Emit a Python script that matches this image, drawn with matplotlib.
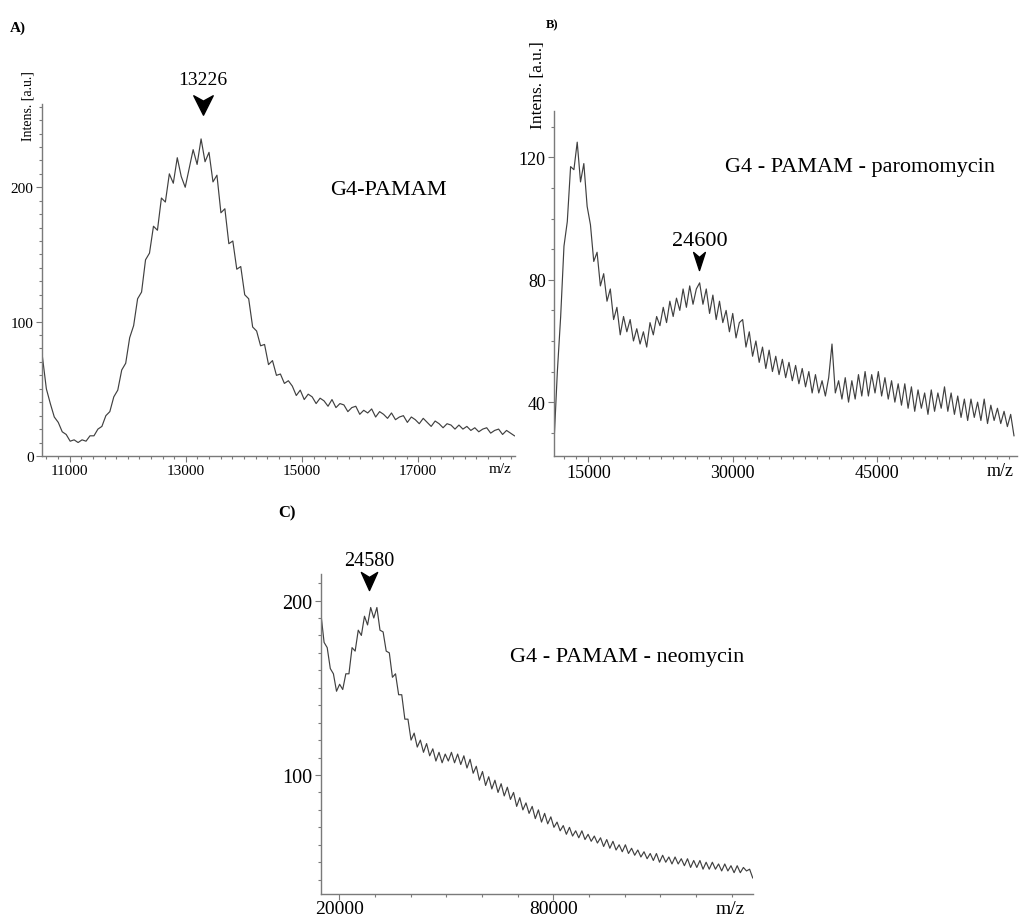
import numpy as np
import matplotlib
matplotlib.use("Agg")
import matplotlib.pyplot as plt
from matplotlib.path import Path
from matplotlib.ticker import MultipleLocator, FixedLocator

plt.rcParams['font.family'] = ['Liberation Serif', 'DejaVu Serif']

# ---- data (m/z grid + intensities) ----
mz_a = np.linspace(10530, 18657, 120)
int_a = [74, 50, 39, 29, 25, 18, 16, 11, 12, 10, 12, 11, 15, 15, 20, 22, 30, 33, 44, 49,
         64, 69, 88, 97, 117, 122, 146, 151, 171, 168, 192, 189, 210, 203, 222, 208, 200, 214, 228, 217,
         236, 219, 226, 204, 209, 181, 184, 158, 160, 139, 141, 120, 117, 96, 93, 82, 83, 68, 71, 60,
         61, 54, 56, 52, 45, 49, 42, 46, 44, 39, 43, 41, 37, 42, 36, 39, 38, 33, 36, 37,
         31, 34, 32, 35, 29, 33, 31, 28, 32, 27, 29, 30, 25, 29, 27, 24, 28, 25, 22, 26,
         24, 21, 24, 23, 20, 23, 20, 22, 19, 21, 18, 20, 21, 17, 19, 20, 16, 19, 17, 15]

mz_b = np.linspace(11430, 59246, 140)
int_b = [27, 50, 68, 91, 99, 117, 116, 125, 112, 118, 104, 98, 86, 89, 78, 82, 73, 77, 67, 71,
         62, 68, 63, 67, 60, 64, 59, 63, 58, 66, 62, 68, 65, 71, 66, 73, 68, 74, 70, 77,
         71, 78, 72, 77, 79, 72, 77, 69, 75, 67, 73, 66, 70, 63, 69, 61, 66, 67, 58, 63,
         55, 60, 53, 58, 51, 57, 50, 55, 49, 54, 48, 53, 47, 52, 46, 51, 45, 50, 43, 49,
         43, 47, 42, 48, 59, 43, 47, 41, 48, 40, 47, 41, 49, 42, 50, 42, 49, 43, 50, 42,
         48, 41, 47, 40, 46, 39, 46, 38, 45, 37, 44, 38, 43, 36, 44, 37, 43, 38, 45, 37,
         43, 36, 42, 35, 41, 34, 41, 35, 40, 34, 41, 33, 39, 34, 38, 33, 37, 32, 36, 29]

mz_c = np.linspace(14860, 135886, 140)
int_c = [192, 176, 173, 161, 158, 148, 152, 149, 158, 158, 173, 171, 183, 180, 191, 186, 196, 190, 196, 183,
         182, 171, 170, 156, 158, 146, 146, 132, 132, 120, 124, 116, 120, 113, 118, 111, 115, 108, 113, 107,
         112, 108, 113, 107, 112, 106, 111, 104, 109, 101, 105, 97, 102, 94, 99, 92, 97, 90, 95, 88,
         93, 86, 90, 82, 87, 80, 84, 78, 82, 75, 80, 73, 78, 72, 76, 70, 73, 68, 71, 66,
         70, 65, 68, 64, 68, 63, 66, 62, 65, 61, 64, 59, 63, 58, 62, 57, 60, 56, 60, 55,
         58, 54, 57, 53, 56, 52, 55, 51, 55, 50, 54, 50, 53, 49, 53, 49, 52, 48, 52, 47,
         51, 47, 51, 46, 50, 46, 50, 46, 49, 45, 49, 45, 48, 44, 48, 44, 47, 45, 46, 41]

# peak labels: (label, arrow m/z, arrow y, text y)
peak_a = ("13226", 13295, 261, 280)
peak_b = ("24600", 26548, 86, 93)
peak_c = ("24580", 28318, 211, 223)

LINE = '#404040'
AXC = '#7a7a7a'


def arrow(w):
    verts = [(-w, 1), (0, -1), (w, 1), (0, 0.45), (-w, 1)]
    codes = [Path.MOVETO, Path.LINETO, Path.LINETO, Path.LINETO, Path.CLOSEPOLY]
    return Path(verts, codes)


def style(ax, fs):
    for s in ['top', 'right']:
        ax.spines[s].set_visible(False)
    for s in ['left', 'bottom']:
        ax.spines[s].set_color(AXC)
        ax.spines[s].set_linewidth(1.0)
    ax.tick_params(which='both', direction='out', color=AXC, labelsize=fs,
                   width=0.8, labelcolor='black')
    ax.tick_params(which='major', length=4, pad=2)
    ax.tick_params(which='minor', length=2.5)


fig = plt.figure(figsize=(10.19, 9.2), dpi=100)

# ---- A ----
axA = fig.add_axes([0.0412, 0.5033, 0.4642, 0.3826])
axA.plot(mz_a, int_a, color=LINE, lw=0.85)
axA.set_xlim(10523, 18666)
axA.set_ylim(0, 262)
axA.xaxis.set_major_locator(FixedLocator([11000, 13000, 15000, 17000]))
axA.xaxis.set_minor_locator(MultipleLocator(200))
axA.yaxis.set_major_locator(FixedLocator([0, 100, 200]))
axA.yaxis.set_minor_locator(MultipleLocator(10))
style(axA, 11)
axA.plot(peak_a[1], peak_a[2], marker=arrow(1.0), ms=14, color='black', clip_on=False)
axA.text(peak_a[1], peak_a[3], peak_a[0], ha='center', va='center', fontsize=14)
axA.text(16480, 198, "G4-PAMAM", ha='center', va='center', fontsize=16)
axA.text(0.968, -0.037, "m/z", transform=axA.transAxes, ha='center', va='center', fontsize=11)
axA.text(-0.03, 0.997, "Intens. [a.u.]", transform=axA.transAxes, rotation=90,
         ha='center', va='center', fontsize=10)

# ---- B ----
axB = fig.add_axes([0.5437, 0.5033, 0.4544, 0.375])
axB.plot(mz_b, int_b, color=LINE, lw=0.85)
axB.set_xlim(11428, 59566)
axB.set_ylim(22.4, 135.2)
axB.xaxis.set_major_locator(FixedLocator([15000, 30000, 45000]))
axB.xaxis.set_minor_locator(MultipleLocator(1250))
axB.yaxis.set_major_locator(FixedLocator([40, 80, 120]))
axB.yaxis.set_minor_locator(MultipleLocator(10))
style(axB, 13)
axB.plot(peak_b[1], peak_b[2], marker=arrow(0.65), ms=13, color='black', clip_on=False)
axB.text(peak_b[1], peak_b[3], peak_b[0], ha='center', va='center', fontsize=16)
axB.text(43264, 117, "G4 - PAMAM - paromomycin", ha='center', va='center', fontsize=16)
axB.text(0.963, -0.043, "m/z", transform=axB.transAxes, ha='center', va='center', fontsize=13)
axB.text(-0.035, 1.078, "Intens. [a.u.]", transform=axB.transAxes, rotation=90,
         ha='center', va='center', fontsize=12.5)

# ---- C ----
axC = fig.add_axes([0.315, 0.0272, 0.4237, 0.3478])
axC.plot(mz_c, int_c, color=LINE, lw=0.85)
axC.set_xlim(14860, 135889)
axC.set_ylim(31.8, 215.2)
axC.xaxis.set_major_locator(FixedLocator([20000, 80000]))
axC.xaxis.set_minor_locator(MultipleLocator(10000))
axC.yaxis.set_major_locator(FixedLocator([100, 200]))
axC.yaxis.set_minor_locator(MultipleLocator(10))
style(axC, 14.5)
axC.tick_params(axis='x', which='major', pad=0.5, labelsize=14)
axC.plot(peak_c[1], peak_c[2], marker=arrow(0.9), ms=13, color='black', clip_on=False)
axC.text(peak_c[1], peak_c[3], peak_c[0], ha='center', va='center', fontsize=14.5)
axC.text(100562, 168, "G4 - PAMAM - neomycin", ha='center', va='center', fontsize=16)
axC.text(0.947, -0.045, "m/z", transform=axC.transAxes, ha='center', va='center', fontsize=14)

# panel letters
fig.text(0.0177, 0.9696, "A)", fontsize=11, fontweight='bold', ha='center', va='center')
fig.text(0.5417, 0.9728, "B)", fontsize=9, fontweight='bold', ha='center', va='center')
fig.text(0.2816, 0.4424, "C)", fontsize=12, fontweight='bold', ha='center', va='center')

fig.savefig("out.png", dpi=100)
